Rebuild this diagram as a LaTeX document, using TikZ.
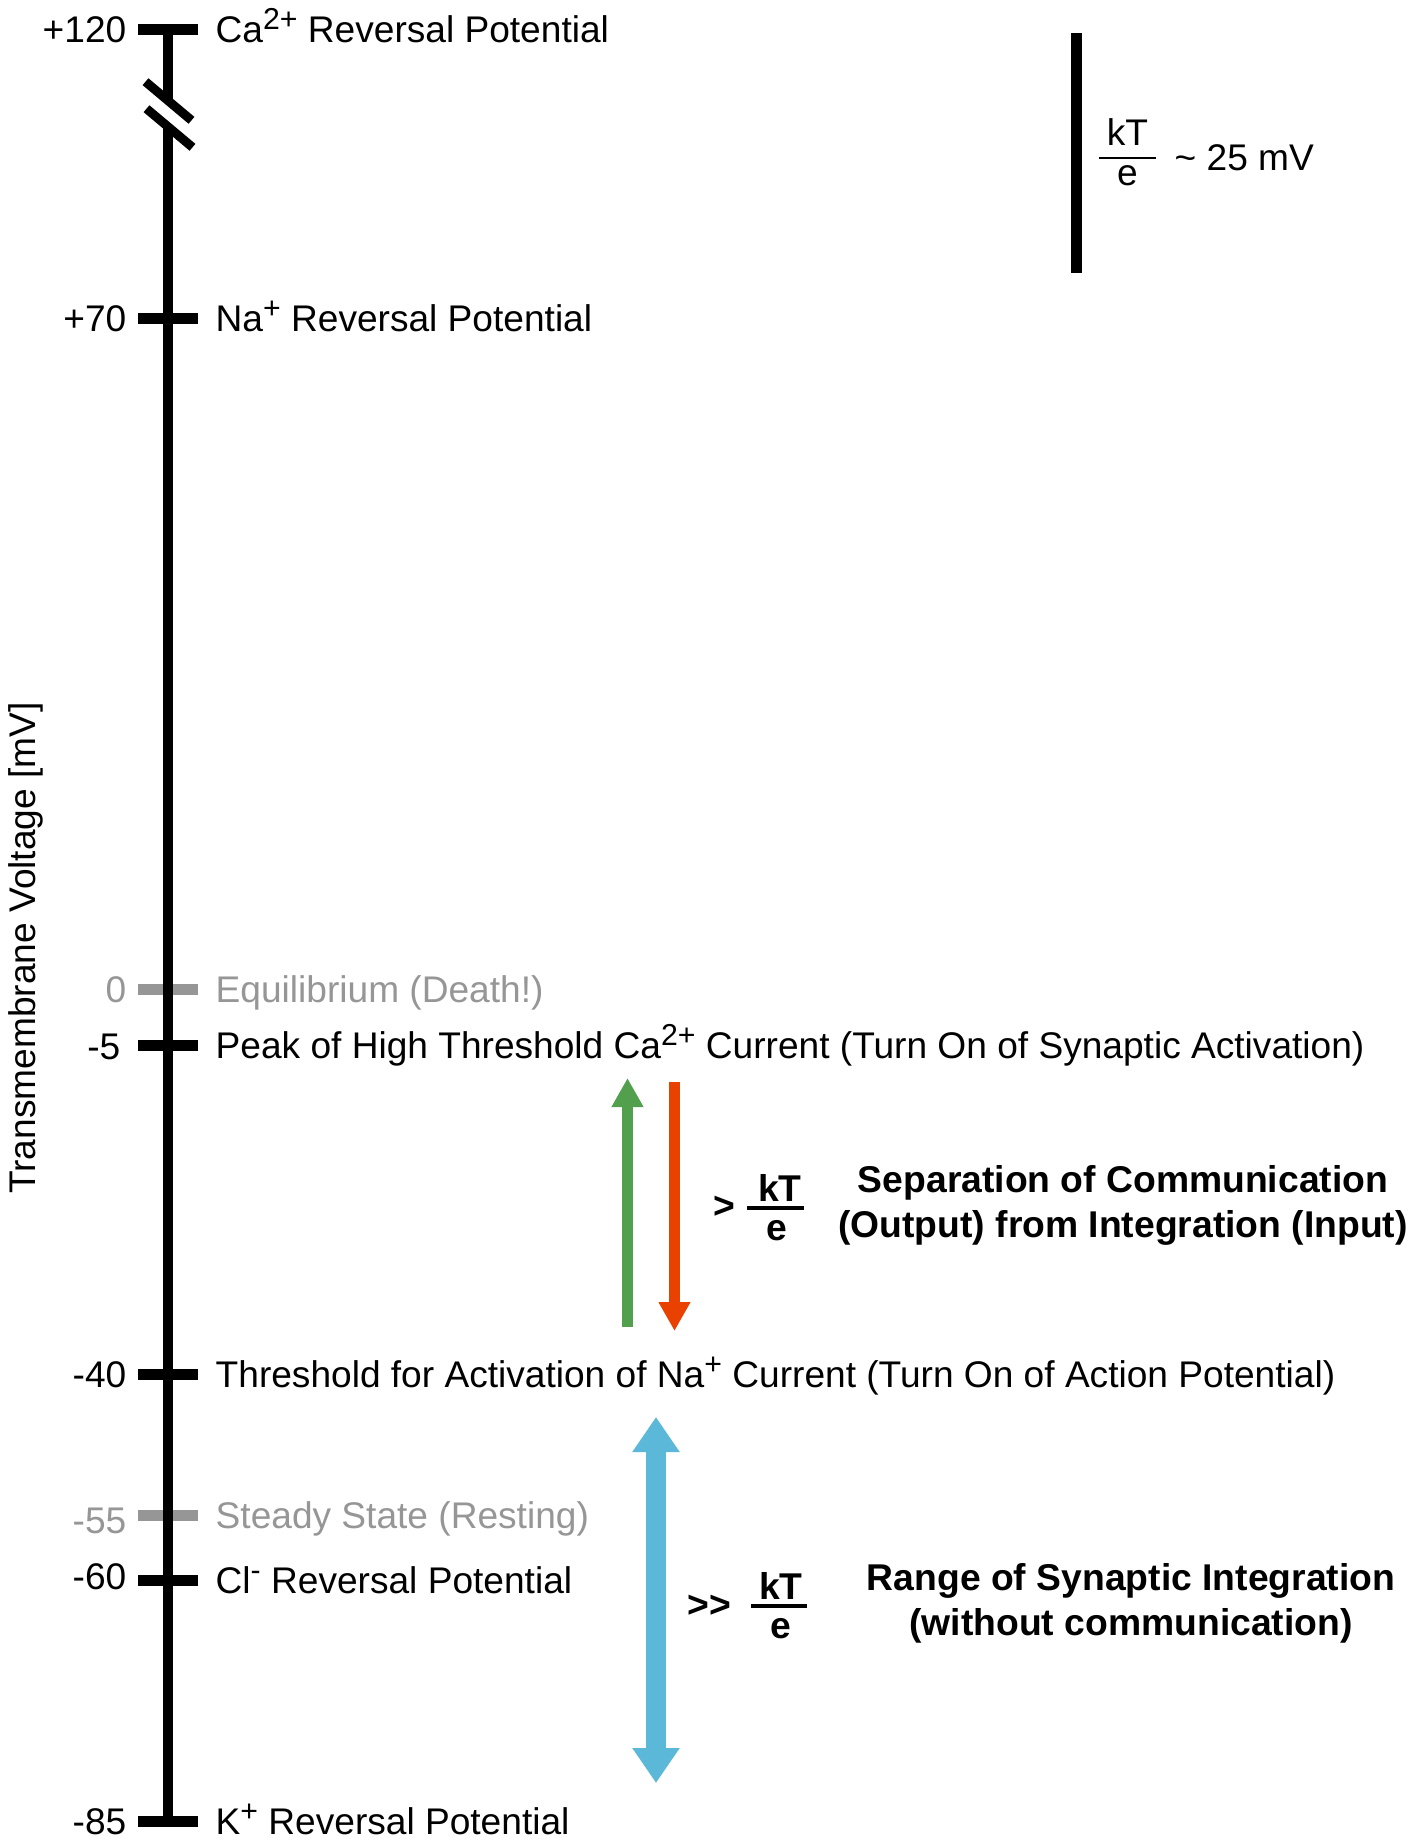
\documentclass[tikz,border=0pt]{standalone}
\usepackage{fontspec}
\setmainfont{Liberation Sans}
\usetikzlibrary{arrows.meta}
\definecolor{restgray}{HTML}{969696}
\definecolor{upgreen}{HTML}{52A04E}
\definecolor{downred}{HTML}{E84100}
\definecolor{rangeblue}{HTML}{5BB8D8}
\newcommand{\ionsup}[1]{\raisebox{3.6pt}{\fontsize{8.6}{9}\selectfont #1}}
\tikzset{
  lbl/.style      = {font=\fontsize{10.55}{12.8}\selectfont, inner sep=0pt},
  vnum/.style     = {lbl, anchor=base east},
  vtext/.style    = {lbl, anchor=base west},
  note/.style     = {inner sep=0pt, align=center,
                     font=\fontsize{10.6}{12.8}\selectfont\bfseries},
  tickmark/.style = {line width=0.11cm},
  spine/.style    = {line width=0.1cm},
  breakbar/.style = {line width=0.09cm},
  fracbar/.style  = {line width=0.025cm},
  uparrow/.style  = {line width=0.11cm, draw=upgreen,
                     -{Triangle[length=0.29cm, width=0.30cm]}},
  downarrow/.style= {line width=0.11cm, draw=downred,
                     -{Triangle[length=0.29cm, width=0.30cm]}},
  rangearrow/.style = {line width=0.2cm, draw=rangeblue,
                     {Triangle[length=0.35cm, width=0.45cm]}-{Triangle[length=0.35cm, width=0.45cm]}},
}

\begin{document}
\begin{tikzpicture}[x=0.01cm, y=-0.01cm]
  \useasboundingbox (0,0) rectangle (1422,1839);
  % axis title
  \node[lbl, rotate=90] (title) at (26,948) {Transmembrane Voltage [mV]};
  % levels: tick y / value / value x / value drop / colour / text
  \foreach \ty/\tnum/\nx/\ndy/\tcol/\ttext [count=\i] in {
      29/+120/127/13/black/{Ca\ionsup{2+} Reversal Potential},
      318/+70/127/13/black/{Na\ionsup{+} Reversal Potential},
      989/0/127/13/restgray/{Equilibrium (Death!)},
      1045/-5/121/14/black/{Peak of High Threshold Ca\ionsup{2+} Current (Turn On of Synaptic Activation)},
      1374/-40/127/13/black/{Threshold for Activation of Na\ionsup{+} Current (Turn On of Action Potential)},
      1515/-55/127/18/restgray/{Steady State (Resting)},
      1580/-60/127/9/black/{Cl\ionsup{-} Reversal Potential},
      1821/-85/127/13/black/{K\ionsup{+} Reversal Potential}}
  {
    \draw[tickmark, \tcol] (138,\ty) -- (198,\ty);
    \node[vnum, text=\tcol] (num\i) at (\nx,\ty+\ndy) {\tnum};
    \node[vtext, text=\tcol] (lev\i) at (215,\ty+13) {\ttext};
  }
  % axis with break
  \coordinate (top) at (168,29);
  \coordinate (cut1) at (168,101);
  \coordinate (cut2) at (168,128);
  \coordinate (bot) at (168,1821);
  \draw[spine] (top) -- (cut1);
  \draw[spine] (cut2) -- (bot);
  \draw[breakbar] (145.5,81.7) -- (191.5,120.3);
  \draw[breakbar] (146.5,108.7) -- (192.5,147.3);
  % scale bar
  \coordinate (sb0) at (1076,33);
  \coordinate (sb1) at (1076,273);
  \draw[tickmark] (sb0) -- (sb1);
  \node[lbl, anchor=base] (kt0) at (1127.5,145) {kT};
  \node[lbl, anchor=base] (e0) at (1127.5,185) {e};
  \draw[fracbar] (1099,158) -- (1156,158);
  \node[vtext] (mv) at (1174,170) {\textasciitilde{} 25 mV};
  % output / input separation
  \coordinate (g0) at (627.5,1327);
  \coordinate (g1) at (627.5,1078);
  \draw[uparrow] (g0) -- (g1);
  \coordinate (r0) at (674.5,1082);
  \coordinate (r1) at (674.5,1331);
  \draw[downarrow] (r0) -- (r1);
  \node[note, anchor=base] (gt1) at (724,1218) {>};
  \node[note, anchor=base] (kt1) at (780,1201) {kT};
  \node[note, anchor=base] (e1) at (777,1240) {e};
  \draw[fracbar, line width=0.045cm] (747,1208) -- (804,1208);
  \node[note] (sep) at (1123,1205) {Separation of Communication\\(Output) from Integration (Input)};
  % integration range
  \coordinate (b0) at (656,1417);
  \coordinate (b1) at (656,1783);
  \draw[rangearrow] (b0) -- (b1);
  \node[note, anchor=base] (gt2) at (709,1617) {>{}>};
  \node[note, anchor=base] (kt2) at (781,1599) {kT};
  \node[note, anchor=base] (e2) at (781,1638) {e};
  \draw[fracbar, line width=0.045cm] (751,1606) -- (807,1606);
  \node[note] (rng) at (1131,1603) {Range of Synaptic Integration\\(without communication)};
\end{tikzpicture}
\end{document}
